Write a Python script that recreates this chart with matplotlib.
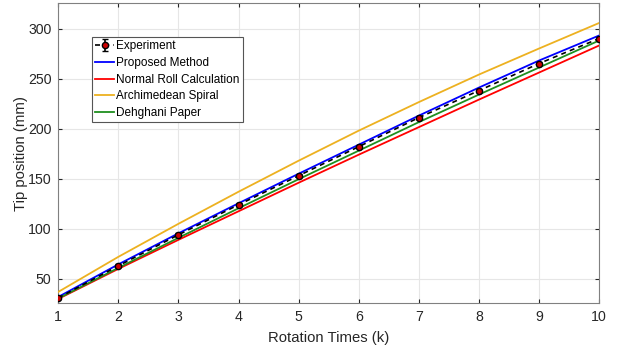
import matplotlib
matplotlib.use("Agg")
import matplotlib.pyplot as plt

plt.rcParams["font.family"] = ["Liberation Sans", "DejaVu Sans"]

# Rotation times
k = [1, 2, 3, 4, 5, 6, 7, 8, 9, 10]

# Tip position (mm) for each series
experiment = [31, 63, 94, 124, 153, 182, 211, 238, 265, 290]
experiment_err = [1.5, 1.5, 1.5, 1.5, 1.5, 1.5, 1.5, 1.5, 1.5, 1.5]
proposed = [32, 64.5, 95.5, 125.5, 155, 184, 213, 241, 268, 293]
normal_roll = [30, 60, 89, 117.5, 146, 174, 201.5, 229, 256, 283]
archimedean = [37, 72, 105, 137, 168, 198, 226.5, 254, 280, 305.5]
dehghani = [30.5, 61, 91, 120.5, 149.5, 178, 206.5, 234, 261, 288]

fig, ax = plt.subplots(figsize=(6.26, 3.47), dpi=100)
fig.subplots_adjust(left=0.093, right=0.957, top=0.99, bottom=0.127)

ax.plot(k, proposed, color="#0000ff", lw=1.3, label="Proposed Method", zorder=3)
ax.plot(k, normal_roll, color="#ff0000", lw=1.3, label="Normal Roll Calculation", zorder=3)
ax.plot(k, archimedean, color="#edb120", lw=1.3, label="Archimedean Spiral", zorder=3)
ax.plot(k, dehghani, color="#1f8f1f", lw=1.3, label="Dehghani Paper", zorder=3)
ax.errorbar(k, experiment, yerr=experiment_err, fmt="o", linestyle=(0, (3, 2.5)),
            color="black", lw=1.2,
            markerfacecolor="#cc0000", markeredgecolor="black", markersize=4.5,
            capsize=2, label="Experiment", zorder=4)

ax.set_xlim(1, 10)
ax.set_ylim(26, 325)
ax.set_xticks(k)
ax.set_yticks([50, 100, 150, 200, 250, 300])
ax.set_xlabel("Rotation Times (k)", fontsize=10.7, color="#262626", labelpad=5)
ax.set_ylabel("Tip position (mm)", fontsize=10.7, color="#262626", labelpad=0)
ax.tick_params(direction="in", top=True, right=True, labelsize=10.2,
               colors="#262626", length=3, pad=5)
ax.grid(True, color="#e6e6e6", lw=0.8)
ax.set_axisbelow(True)
for s in ax.spines.values():
    s.set_color("#808080")

handles, labels = ax.get_legend_handles_labels()
order = [4, 0, 1, 2, 3]
leg = ax.legend([handles[i] for i in order], [labels[i] for i in order],
                loc="upper left", bbox_to_anchor=(0.063, 0.887), fontsize=8.5,
                fancybox=False, framealpha=1, edgecolor="#555555",
                borderpad=0.25, labelspacing=0.4, handlelength=1.6,
                handletextpad=0.2, borderaxespad=0)
leg.get_frame().set_linewidth(0.8)

fig.savefig("out.png", dpi=100)
